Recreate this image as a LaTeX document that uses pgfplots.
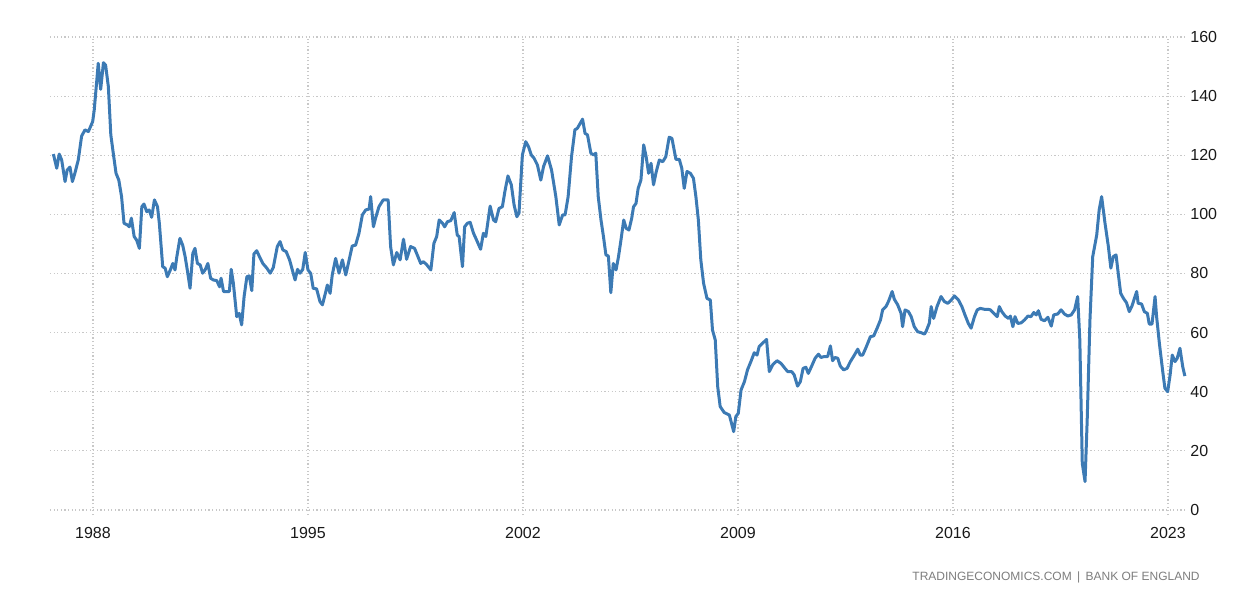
\documentclass[border=0pt]{standalone}
\usepackage{pgfplots}
\pgfplotsset{compat=1.18}
\usepackage{fontspec}
\setmainfont{Liberation Sans}
\definecolor{teline}{RGB}{60,122,180}
\definecolor{tegrid}{RGB}{200,200,200}
\definecolor{telabel}{RGB}{25,25,25}
\definecolor{tefoot}{RGB}{125,125,125}

\begin{document}
\begin{tikzpicture}
\useasboundingbox (-25pt,-42.5pt) rectangle (601pt,257.5pt);
\begin{axis}[
    scale only axis,
    width=568.5pt, height=239pt,
    xmin=1986.60, xmax=2023.62,
    ymin=-1.7, ymax=160,
    xtick={1988,1995,2002,2009,2016,2023},
    ytick={0,20,...,160},
    grid=major,
    major grid style={tegrid, line width=0.6pt, dash pattern=on 0.6pt off 1.2pt},
    axis line style={draw=none},
    major tick length=0pt,
    yticklabel pos=right,
    tick label style={font=\fontsize{8}{9}\selectfont, text=telabel},
    xticklabel style={anchor=north, inner sep=0pt, yshift=-6pt},
    yticklabel style={anchor=west, inner sep=0pt, xshift=1.5pt},
    /pgf/number format/assume math mode=true,
    /pgf/number format/1000 sep={},
]
\addplot[teline, line width=1.5pt, line join=round, mark=none] coordinates {
(1986.71,120.4) (1986.82,115.6) (1986.90,120.4) (1986.98,118.4) (1987.09,111.1)
(1987.16,115.0) (1987.25,116.0) (1987.33,111.1) (1987.41,113.9) (1987.52,118.4)
(1987.63,126.5) (1987.74,128.6) (1987.85,128.0) (1987.99,131.4) (1988.04,135.3)
(1988.12,144.9) (1988.17,151.1) (1988.25,142.3) (1988.34,151.3) (1988.41,150.5)
(1988.50,143.2) (1988.58,126.9) (1988.66,120.7) (1988.75,113.9) (1988.84,111.6)
(1988.93,106.0) (1989.01,97.0) (1989.12,96.4) (1989.18,95.8) (1989.25,98.7)
(1989.34,92.5) (1989.42,91.3) (1989.51,88.5) (1989.59,102.6) (1989.66,103.5)
(1989.75,100.9) (1989.83,101.5) (1989.91,99.0) (1990.00,104.9) (1990.10,102.6)
(1990.16,97.0) (1990.27,82.3) (1990.35,81.8) (1990.42,78.9) (1990.51,81.0)
(1990.60,83.4) (1990.67,81.2) (1990.73,85.7) (1990.83,91.9) (1990.92,89.6)
(1991.00,85.7) (1991.07,81.2) (1991.16,75.0) (1991.25,86.8) (1991.32,88.5)
(1991.40,83.4) (1991.49,82.9) (1991.57,80.1) (1991.65,81.2) (1991.74,83.4)
(1991.83,78.4) (1991.92,77.8) (1992.03,77.6) (1992.12,75.5) (1992.17,78.4)
(1992.25,73.9) (1992.35,73.9) (1992.44,73.9) (1992.50,81.4) (1992.57,76.7)
(1992.68,65.4) (1992.76,66.5) (1992.84,62.6) (1992.92,72.2) (1993.01,78.9)
(1993.09,79.2) (1993.17,74.2) (1993.24,86.6) (1993.33,87.7) (1993.42,85.7)
(1993.53,83.4) (1993.66,81.8) (1993.77,80.1) (1993.87,82.0) (1994.00,89.1)
(1994.09,90.8) (1994.18,88.0) (1994.29,87.4) (1994.40,84.6) (1994.49,81.2)
(1994.58,77.8) (1994.66,81.4) (1994.74,80.1) (1994.83,81.4) (1994.91,87.1)
(1995.00,81.2) (1995.09,80.0) (1995.17,75.0) (1995.28,74.8) (1995.39,70.5)
(1995.47,69.4) (1995.58,73.9) (1995.63,76.1) (1995.72,73.3) (1995.79,79.5)
(1995.90,85.1) (1996.01,80.1) (1996.12,84.6) (1996.23,79.5) (1996.34,84.6)
(1996.44,89.3) (1996.55,89.6) (1996.66,93.6) (1996.77,99.8) (1996.88,101.5)
(1996.99,101.8) (1997.04,106.0) (1997.13,95.8) (1997.20,98.7) (1997.31,102.6)
(1997.45,104.9) (1997.61,104.9) (1997.69,89.1) (1997.78,82.9) (1997.89,87.1)
(1998.00,84.6) (1998.11,91.6) (1998.21,84.8) (1998.34,89.1) (1998.47,88.5)
(1998.58,85.7) (1998.67,83.4) (1998.76,84.0) (1998.87,82.9) (1999.00,81.2)
(1999.10,90.2) (1999.19,92.5) (1999.27,98.1) (1999.38,97.0) (1999.45,95.8)
(1999.54,97.5) (1999.65,97.9) (1999.76,100.6) (1999.86,93.0) (1999.92,92.5)
(2000.03,82.3) (2000.10,95.8) (2000.19,97.0) (2000.28,97.3) (2000.39,93.6)
(2000.49,91.3) (2000.62,88.2) (2000.71,93.6) (2000.79,92.5) (2000.93,102.8)
(2001.04,98.1) (2001.11,97.5) (2001.22,102.0) (2001.33,102.6) (2001.41,107.7)
(2001.51,113.0) (2001.62,110.0) (2001.71,103.2) (2001.80,99.2) (2001.87,100.4)
(2001.98,120.1) (2002.09,124.6) (2002.18,122.9) (2002.27,120.1) (2002.36,119.0)
(2002.47,116.7) (2002.58,111.6) (2002.67,116.2) (2002.80,119.8) (2002.93,115.0)
(2003.07,106.0) (2003.18,96.4) (2003.29,99.8) (2003.37,99.8) (2003.47,106.0)
(2003.58,119.5) (2003.69,128.6) (2003.77,129.1) (2003.94,132.2) (2004.02,127.4)
(2004.10,126.9) (2004.21,120.7) (2004.30,120.1) (2004.37,120.7) (2004.45,106.0)
(2004.54,98.1) (2004.62,92.5) (2004.70,86.3) (2004.78,85.9) (2004.86,73.5)
(2004.94,83.4) (2005.03,81.2) (2005.11,85.7) (2005.19,91.3) (2005.28,98.1)
(2005.36,95.3) (2005.45,94.7) (2005.54,98.7) (2005.60,102.6) (2005.68,103.7)
(2005.75,108.8) (2005.84,111.6) (2005.93,123.5) (2006.01,119.5) (2006.09,113.9)
(2006.17,117.3) (2006.25,110.0) (2006.34,114.5) (2006.44,118.4) (2006.55,117.8)
(2006.65,119.5) (2006.76,126.1) (2006.85,125.7) (2006.98,118.6) (2007.09,118.6)
(2007.17,115.6) (2007.25,108.8) (2007.34,114.5) (2007.45,113.9) (2007.55,112.2)
(2007.63,106.0) (2007.71,98.1) (2007.79,84.6) (2007.88,76.7) (2007.99,71.6)
(2008.10,71.0) (2008.17,60.9) (2008.26,57.5) (2008.34,41.7) (2008.42,35.0)
(2008.55,33.0) (2008.72,32.1) (2008.86,26.5) (2008.93,31.6) (2009.01,32.7)
(2009.10,40.6) (2009.21,43.4) (2009.31,47.4) (2009.42,50.2) (2009.53,53.2)
(2009.62,52.4) (2009.69,55.3) (2009.80,56.4) (2009.93,57.7) (2010.02,46.8)
(2010.13,49.1) (2010.27,50.5) (2010.40,49.6) (2010.53,47.9) (2010.62,46.8)
(2010.75,46.8) (2010.83,45.7) (2010.94,41.9) (2011.03,43.4) (2011.12,47.9)
(2011.21,48.3) (2011.29,46.2) (2011.40,48.7) (2011.51,51.3) (2011.62,52.7)
(2011.70,51.6) (2011.81,51.9) (2011.92,51.9) (2012.01,55.5) (2012.08,50.5)
(2012.16,51.6) (2012.25,51.3) (2012.33,48.7) (2012.44,47.4) (2012.55,47.9)
(2012.66,50.2) (2012.79,52.4) (2012.90,54.4) (2012.98,52.4) (2013.06,52.4)
(2013.17,55.0) (2013.31,58.6) (2013.42,58.9) (2013.53,61.5) (2013.64,64.3)
(2013.71,67.7) (2013.82,68.8) (2013.91,70.8) (2014.02,73.9) (2014.09,71.3)
(2014.20,69.4) (2014.31,66.5) (2014.36,62.0) (2014.44,67.7) (2014.55,67.1)
(2014.64,65.4) (2014.74,62.0) (2014.85,60.3) (2014.96,60.0) (2015.07,59.5)
(2015.12,60.3) (2015.23,63.2) (2015.29,68.8) (2015.37,64.8) (2015.48,68.8)
(2015.61,72.2) (2015.72,70.5) (2015.83,69.9) (2015.94,71.0) (2016.05,72.4)
(2016.18,71.0) (2016.29,68.8) (2016.39,66.0) (2016.50,63.1) (2016.59,61.5)
(2016.70,65.4) (2016.79,67.7) (2016.89,68.2) (2017.02,67.9) (2017.13,67.9)
(2017.22,67.7) (2017.33,66.5) (2017.44,65.4) (2017.51,68.8) (2017.59,67.1)
(2017.70,65.6) (2017.81,64.8) (2017.87,65.6) (2017.95,62.0) (2018.02,65.4)
(2018.11,63.1) (2018.22,63.3) (2018.33,64.3) (2018.44,65.6) (2018.54,65.4)
(2018.63,66.8) (2018.71,66.0) (2018.78,67.4) (2018.87,64.5) (2018.98,64.0)
(2019.09,65.2) (2019.20,62.2) (2019.28,66.0) (2019.41,66.3) (2019.52,67.7)
(2019.63,66.3) (2019.74,65.6) (2019.85,66.0) (2019.96,67.7) (2020.06,72.2)
(2020.13,57.5) (2020.21,15.8) (2020.30,9.6) (2020.37,30.4) (2020.46,64.3)
(2020.55,85.7) (2020.68,93.0) (2020.76,101.5) (2020.84,106.0) (2020.95,97.0)
(2021.06,89.1) (2021.14,81.8) (2021.22,85.7) (2021.31,86.3) (2021.38,80.1)
(2021.46,73.3) (2021.55,71.6) (2021.65,70.1) (2021.74,67.1) (2021.82,68.8)
(2021.89,71.0) (2021.98,73.9) (2022.03,69.9) (2022.14,69.7) (2022.23,67.1)
(2022.33,66.5) (2022.39,62.9) (2022.48,62.9) (2022.58,72.2) (2022.63,65.4)
(2022.72,56.4) (2022.83,46.8) (2022.90,41.2) (2022.99,40.0) (2023.07,45.7)
(2023.14,52.4) (2023.23,50.2) (2023.30,51.3) (2023.39,54.7) (2023.48,48.5)
(2023.55,45.3)
};
\end{axis}
\node[anchor=east, inner sep=0pt, text=tefoot, font=\fontsize{6}{7}\selectfont]
    at (575pt,-31pt) {TRADINGECONOMICS.COM \,|\, BANK OF ENGLAND};
\end{tikzpicture}
\end{document}
